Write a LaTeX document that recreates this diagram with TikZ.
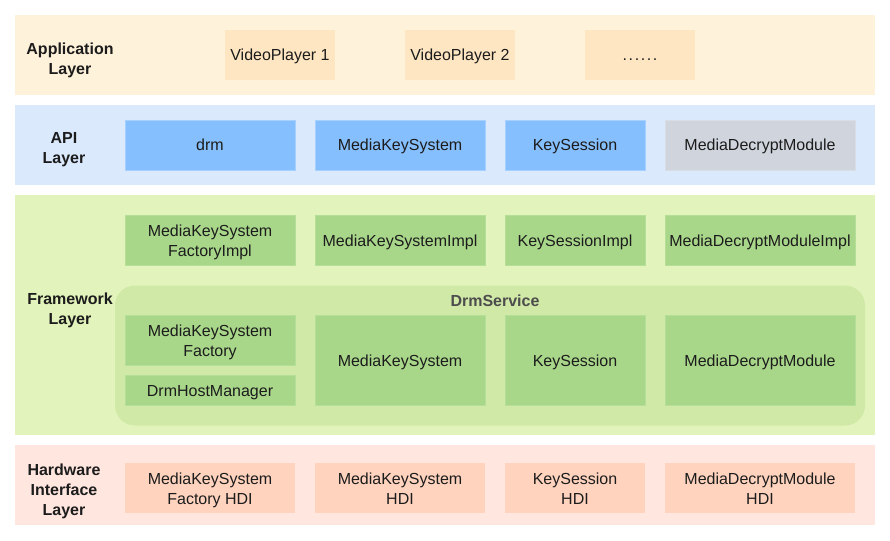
\documentclass[tikz,border=0pt]{standalone}
\usepackage{fontspec}
\setmainfont{Liberation Sans}
\newcommand\tx[1]{\raisebox{-2pt}[\height][\depth]{\begin{tabular}{@{}c@{}}#1\end{tabular}}}
\newcommand\dotrow{.\kern1.6pt.\kern1.6pt.\kern1.6pt.\kern1.6pt.\kern1.6pt.}
\begin{document}
\begin{tikzpicture}[x=1pt,y=-1pt,
  every node/.style={inner sep=0pt,outer sep=0pt,text=txt,font=\fontsize{16}{20}\selectfont},
  band/.style={minimum width=860pt},
  lbl/.style={font=\fontsize{16}{20}\selectfont\bfseries},
  appbox/.style={fill=appbox,minimum width=110pt,minimum height=50pt},
  apibox/.style={fill=apibox,draw=apiline,line width=0.6pt,minimum height=50pt},
  fwbox/.style={fill=fwbox,draw=fwline,line width=0.6pt},
  hwbox/.style={fill=hwbox,minimum height=50pt}]
\definecolor{txt}{HTML}{1C1C1C}
\definecolor{appbg}{HTML}{FFF2DA}
\definecolor{appbox}{HTML}{FFE6C2}
\definecolor{apibg}{HTML}{DAE9FC}
\definecolor{apibox}{HTML}{86BFFD}
\definecolor{apiline}{HTML}{A8D0FE}
\definecolor{graybox}{HTML}{D0D5DD}
\definecolor{fwbg}{HTML}{E2F3BB}
\definecolor{fwcont}{HTML}{D0E9A7}
\definecolor{fwbox}{HTML}{A9D78A}
\definecolor{fwline}{HTML}{B5DE98}
\definecolor{hwbg}{HTML}{FFE6DF}
\definecolor{hwbox}{HTML}{FFD3BE}
\definecolor{dsgray}{HTML}{4D4D4D}
\useasboundingbox (0,0) rectangle (890,540);
\fill[white] (0,0) rectangle (890,540);
% bands
\node[band,fill=appbg,minimum height=80pt] (appL) at (445,55) {};
\node[band,fill=apibg,minimum height=80pt] (apiL) at (445,145) {};
\node[band,fill=fwbg,minimum height=240pt] (fwL) at (445,315) {};
\node[band,fill=hwbg,minimum height=80pt] (hwL) at (445,485) {};
% layer labels
\node[lbl] (appT) at (70,59) {\tx{Application\\Layer}};
\node[lbl] (apiT) at (64,148) {\tx{API\\Layer}};
\node[lbl] (fwT) at (70,308) {\tx{Framework\\Layer}};
\node[lbl] (hwT) at (64,489) {\tx{Hardware\\Interface\\Layer}};
% application
\node[appbox] (vp1) at (280,55) {\tx{VideoPlayer 1}};
\node[appbox] (vp2) at (460,55) {\tx{VideoPlayer 2}};
\node[appbox] (vpn) at (640,55) {\tx{\dotrow}};
% API
\node[apibox,minimum width=170pt] (drm) at (210,145) {\tx{drm}};
\node[apibox,minimum width=170pt] (mks) at (400,145) {\tx{MediaKeySystem}};
\node[apibox,minimum width=140pt] (ks) at (575,145) {\tx{KeySession}};
\node[apibox,fill=graybox,draw=graybox!80!white,minimum width=190pt] (mdm) at (760,145) {\tx{MediaDecryptModule}};
% framework impl
\node[fwbox,minimum width=170pt,minimum height=50pt] (mksfi) at (210,240) {\tx{MediaKeySystem\\FactoryImpl}};
\node[fwbox,minimum width=170pt,minimum height=50pt] (mksi) at (400,240) {\tx{MediaKeySystemImpl}};
\node[fwbox,minimum width=140pt,minimum height=50pt] (ksi) at (575,240) {\tx{KeySessionImpl}};
\node[fwbox,minimum width=190pt,minimum height=50pt] (mdmi) at (760,240) {\tx{MediaDecryptModuleImpl}};
% DrmService container
\node[fill=fwcont,rounded corners=20pt,minimum width=750pt,minimum height=140pt] (ds) at (490,355.5) {};
\node[lbl,text=dsgray] (dsT) at (495,300) {\tx{DrmService}};
\node[fwbox,minimum width=170pt,minimum height=50pt] (mksf) at (210,340.5) {\tx{MediaKeySystem\\Factory}};
\node[fwbox,minimum width=170pt,minimum height=30pt] (dhm) at (210,390.5) {\tx{DrmHostManager}};
\node[fwbox,minimum width=170pt,minimum height=90pt] (mkss) at (400,360.5) {\tx{MediaKeySystem}};
\node[fwbox,minimum width=140pt,minimum height=90pt] (kss) at (575,360.5) {\tx{KeySession}};
\node[fwbox,minimum width=190pt,minimum height=90pt] (mdms) at (760,360.5) {\tx{MediaDecryptModule}};
% hardware
\node[hwbox,minimum width=170pt] (h1) at (210,488) {\tx{MediaKeySystem\\Factory HDI}};
\node[hwbox,minimum width=170pt] (h2) at (400,488) {\tx{MediaKeySystem\\HDI}};
\node[hwbox,minimum width=140pt] (h3) at (575,488) {\tx{KeySession\\HDI}};
\node[hwbox,minimum width=190pt] (h4) at (760,488) {\tx{MediaDecryptModule\\HDI}};
\end{tikzpicture}
\end{document}
